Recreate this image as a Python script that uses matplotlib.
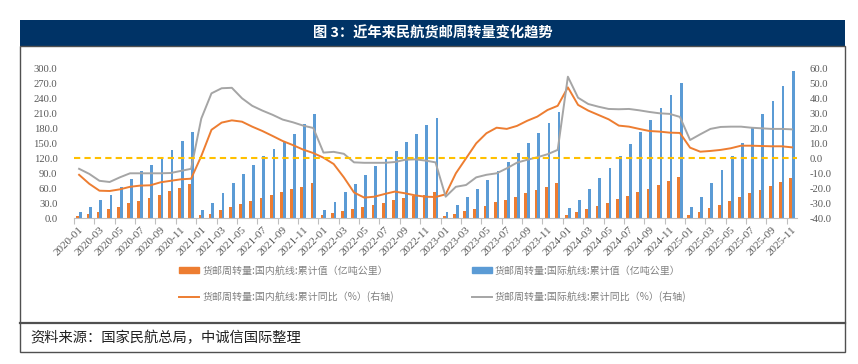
import numpy as np
import matplotlib
matplotlib.use("Agg")
import matplotlib.pyplot as plt
from matplotlib.patches import Rectangle, Patch
from matplotlib.lines import Line2D

plt.rcParams['font.family'] = ['Noto Sans CJK SC', 'DejaVu Sans']

# ---- data ----
months = [f"{y}-{m:02d}" for y in range(2020, 2026) for m in range(1, 13)][:71]

# 货邮周转量:国内航线:累计值（亿吨公里）
dom_cum = [5, 9, 13, 18, 23, 30, 35, 41, 47, 55, 61, 68,
           6, 9, 17, 23, 29, 35, 40, 46, 53, 58, 63, 70,
           7, 10, 15, 18, 22, 27, 31, 37, 41, 45, 47, 52,
           4, 9, 14, 19, 25, 32, 37, 43, 51, 57, 63, 71,
           7, 12, 19, 25, 31, 39, 45, 52, 59, 67, 75, 82,
           7, 13, 20, 27, 35, 42, 50, 57, 65, 73, 80]
# 货邮周转量:国际航线:累计值（亿吨公里）
intl_cum = [13, 22, 36, 47, 63, 78, 94, 107, 121, 137, 154, 173,
            17, 31, 51, 71, 89, 107, 125, 139, 153, 169, 188, 208,
            17, 33, 53, 69, 86, 105, 119, 135, 152, 169, 186, 201,
            13, 27, 43, 59, 77, 95, 113, 131, 150, 171, 191, 213,
            20, 37, 59, 80, 101, 125, 149, 172, 196, 220, 247, 271,
            22, 43, 70, 97, 125, 151, 181, 208, 235, 265, 295]
# 累计同比（%）右轴
dom_yoy = [-11, -17, -21.6, -21.8, -20.7, -19, -18.2, -18, -16, -15, -14, -13.6,
           1.5, 19, 23.8, 25.3, 24.4, 21.1, 18.2, 14.9, 11.5, 8.8, 5.8, 3.5,
           0.4, -3.8, -12.7, -22.8, -26.2, -25.6, -23.8, -22.2, -23.3, -24.7, -25.6, -25.8,
           -24, -10, 0, 10, 16.7, 20.4, 19.6, 21.6, 25, 27.8, 32.2, 35,
           47.3, 35.6, 31.8, 28.9, 26, 21.8, 21.1, 19.6, 18.2, 17.8, 17.1, 16.9,
           7.1, 4.4, 4.9, 5.6, 6.7, 8.4, 8.4, 8.2, 8, 8, 7.3]
intl_yoy = [-7, -10.4, -15, -15.8, -12.7, -10, -10, -10, -10, -9.8, -8.4, -7,
            26.5, 43.3, 46.7, 47, 40, 35, 31.8, 29, 25.8, 24, 21.8, 20.2,
            3.8, 4.3, 3, -2.7, -3, -3, -3, -2.5, -1, -0.7, -1.5, -2.7,
            -25.6, -19, -17.8, -12.7, -11, -10, -6.7, -2.9, -1, 0.7, 2.7, 5.6,
            54.4, 40.4, 36.2, 34.4, 32.9, 32.7, 32.9, 32, 30.9, 30, 29.6, 27.6,
            12.2, 16, 19.6, 20.9, 21.1, 21.1, 20.4, 20, 19.6, 19.6, 19.3]

labels = ["货邮周转量:国内航线:累计值（亿吨公里）",
          "货邮周转量:国际航线:累计值（亿吨公里）",
          "货邮周转量:国内航线:累计同比（%）(右轴)",
          "货邮周转量:国际航线:累计同比（%）(右轴)"]

ORANGE, BLUE, GRAY, GOLD = "#ED7D31", "#5B9BD5", "#A5A5A5", "#FFC000"
TICK_C = "#595959"
W, H = 858, 364
fx = lambda px: px / W
fy = lambda py: 1 - py / H

fig = plt.figure(figsize=(W / 100, H / 100), dpi=100)

# frame + title bar
fig.add_artist(Rectangle((fx(20), fy(46)), fx(845) - fx(20), fy(20) - fy(46),
                         transform=fig.transFigure, color="#003366", lw=0))
fig.add_artist(Rectangle((fx(20), fy(352)), fx(845) - fx(20), fy(46) - fy(352),
                         transform=fig.transFigure, fill=False, ec="#505050", lw=1.0))
fig.add_artist(Line2D([fx(20), fx(845)], [fy(323), fy(323)],
                      transform=fig.transFigure, color="#505050", lw=1.6))
fig.text(fx(433), fy(33), "图 3：近年来民航货邮周转量变化趋势", color="white",
         fontsize=10.3, fontweight="bold", ha="center", va="center")
fig.text(fx(30), fy(338), "资料来源：国家民航总局，中诚信国际整理", color="#222222",
         fontsize=10.3, style="italic", ha="left", va="center")

# ---- chart ----
ax = fig.add_axes([fx(74), fy(218.3), fx(797) - fx(74), fy(68.3) - fy(218.3)])
n = len(months)
x = np.arange(n)
ax.bar(x - 0.135, dom_cum, width=0.27, color=ORANGE, zorder=2)
ax.bar(x + 0.135, intl_cum, width=0.27, color=BLUE, zorder=2)
ax.set_xlim(-0.5, n - 0.5)
ax.set_ylim(0, 300)
yt = np.arange(0, 301, 30)
ax.set_yticks(yt)
ax.set_yticklabels([f"{v:.1f}" for v in yt])
ax.set_xticks(x[::2])
ax.set_xticklabels(months[::2], rotation=45, ha="right", va="top", rotation_mode="anchor")
ax.set_xticks(np.arange(-0.5, n, 2), minor=True)
ax.tick_params(axis="x", which="major", length=0, pad=5, labelsize=8,
               labelcolor=TICK_C, labelfontfamily="Liberation Serif")
ax.tick_params(axis="x", which="minor", length=4, color="#BFBFBF", width=0.8)
ax.tick_params(axis="y", length=0, pad=12, labelsize=7.7, labelcolor=TICK_C,
               labelfontfamily="Liberation Serif")
for s in ["top", "right", "left"]:
    ax.spines[s].set_visible(False)
ax.spines["bottom"].set_color("#BFBFBF")
ax.spines["bottom"].set_linewidth(0.8)

ax2 = ax.twinx()
ax2.plot(x, dom_yoy, color=ORANGE, lw=1.4)
ax2.plot(x, intl_yoy, color=GRAY, lw=1.4)
ax2.axhline(0, color=GOLD, lw=1.5, ls=(0, (3, 2)))
ax2.set_ylim(-40, 60)
rt = np.arange(-40, 61, 10)
ax2.set_yticks(rt)
ax2.set_yticklabels([f"{v:.1f}" for v in rt])
ax2.tick_params(axis="y", length=0, pad=9, labelsize=7.7, labelcolor=TICK_C,
                labelfontfamily="Liberation Serif")
for s in ax2.spines.values():
    s.set_visible(False)

handles = [Patch(color=ORANGE), Line2D([], [], color=ORANGE, lw=1.4),
           Patch(color=BLUE), Line2D([], [], color=GRAY, lw=1.4)]
fig.legend(handles, [labels[0], labels[2], labels[1], labels[3]], ncol=2,
           loc="center", bbox_to_anchor=(fx(433), fy(284)), frameon=False,
           fontsize=7.2, labelcolor="#808080", handlelength=2.0, handleheight=0.6,
           labelspacing=1.6, columnspacing=7.8, handletextpad=0.3)

plt.savefig("out.png", dpi=100)
